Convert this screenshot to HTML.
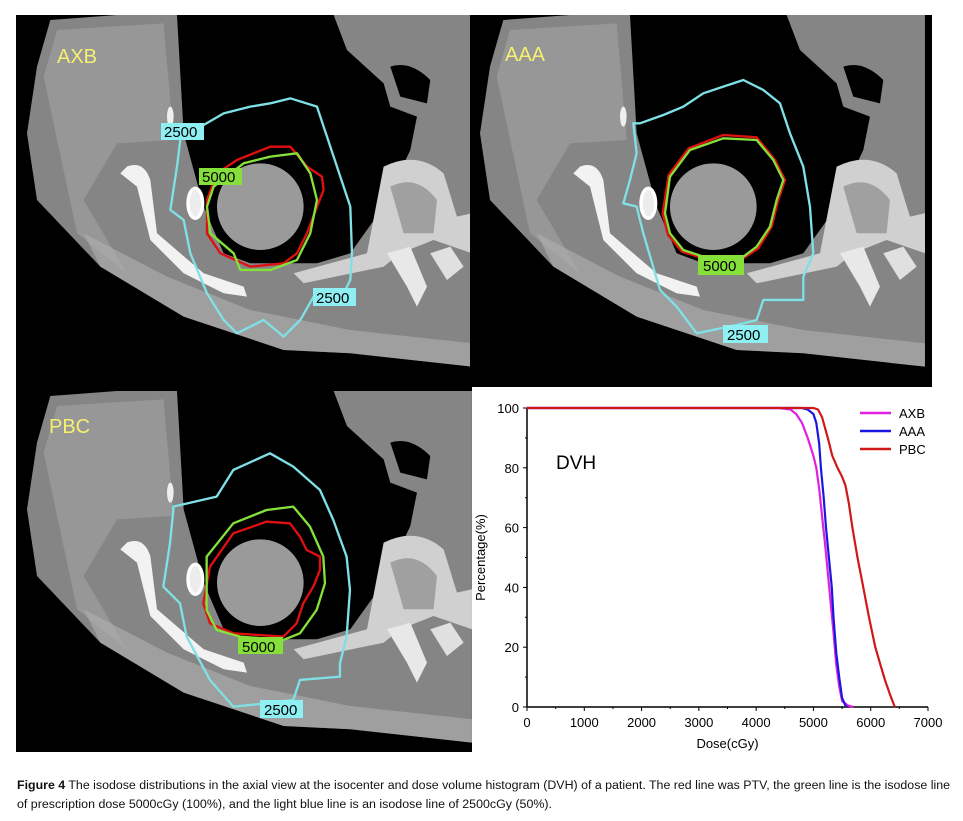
<!DOCTYPE html>
<html><head><meta charset="utf-8"><style>
body{margin:0;background:#fff;width:963px;height:821px;overflow:hidden;font-family:"Liberation Sans",sans-serif}
</style></head><body>
<svg id="fig" width="963" height="821" style="position:absolute;left:0;top:0">
<defs>
<g id="ct">
 <rect x="0" y="45" width="1365" height="1060" fill="#000"/>
 <path d="M60,200 L100,60 L300,45 L480,45 L500,400 L560,620 L620,760 L700,790 L900,790 L1000,760 L1100,620 L1180,450 L1200,350 L1120,320 L1100,250 L990,150 L950,45 L1365,45 L1365,1100 L1000,1060 L800,1050 L500,950 L250,800 L60,600 L30,400 Z" fill="#858585"/>
 <path d="M80,230 L120,90 L440,70 L470,420 L300,430 L200,600 L330,820 L180,700 Z" fill="#9e9e9e" opacity="0.7"/>
 <path d="M250,800 L500,950 L800,1050 L1000,1060 L1365,1100 L1365,1030 L1000,990 L700,930 L450,830 L200,700 Z" fill="#b0b0b0" opacity="0.6"/>
 <circle cx="730" cy="620" r="130" fill="#9a9a9a"/>
 <path d="M1100,500 Q1200,450 1280,520 L1320,650 L1365,640 L1365,760 L1250,720 L1150,760 L1100,800 L860,850 L830,820 L1050,760 Z" fill="#d0d0d0"/>
 <path d="M1120,560 Q1200,520 1260,600 L1250,700 L1160,700 Z" fill="#a0a0a0"/>
 <path d="M1110,760 L1180,740 L1230,860 L1200,920 L1170,860 Z" fill="#e8e8e8"/>
 <path d="M1240,760 L1300,740 L1340,800 L1290,840 Z" fill="#e0e0e0"/>
 <path d="M1120,200 Q1180,180 1240,240 L1230,310 L1150,290 Z" fill="#000"/>
 <path d="M330,500 Q380,480 400,540 L420,700 L560,820 L680,860 L690,890 L620,880 L500,820 L400,720 L360,560 L310,520 Z" fill="#f2f2f2"/>
 <ellipse cx="535" cy="610" rx="22" ry="45" fill="#ececec" stroke="#fff" stroke-width="10"/>
 <ellipse cx="460" cy="350" rx="10" ry="30" fill="#eee"/>
</g>
</defs>
<rect x="16" y="15" width="916" height="737" fill="#000"/>
<g>
 <use href="#ct" transform="translate(17,0) scale(0.3333)"/>
 <g transform="translate(17,0) scale(0.3333)" fill="none" stroke-width="7" stroke-linejoin="round">
  <path stroke="#7fe0e6" d="M560,375 L620,340 L700,320 L760,310 L820,295 L900,320 L920,380 L960,500 L1000,620 L1005,760 L1000,840 L980,880 L890,890 L850,960 L800,1010 L740,960 L660,1000 L620,960 L570,880 L520,760 L500,660 L460,630 L480,500 L490,420 L470,380 Z"/>
  <path stroke="#e01010" d="M600,520 L660,480 L760,440 L820,440 L870,500 L915,530 L920,570 L900,620 L870,700 L840,760 L800,790 L700,800 L610,760 L570,700 L570,600 Z"/>
  <path stroke="#86e03a" d="M590,560 L680,490 L760,470 L840,460 L880,520 L900,600 L880,700 L840,780 L760,810 L670,810 L650,760 L580,700 L570,620 Z"/>
 </g>
 <rect x="161" y="123" width="43" height="17" fill="#8ff0f4"/><text x="164" y="137" font-size="15">2500</text>
 <rect x="199" y="168" width="43" height="17" fill="#86e03a"/><text x="202" y="182" font-size="15">5000</text>
 <rect x="313" y="288" width="43" height="18" fill="#8ff0f4"/><text x="316" y="303" font-size="15">2500</text>
 <text x="57" y="63" font-size="20" fill="#f5f070">AXB</text>
</g>
<g>
 <use href="#ct" transform="translate(470,0) scale(0.3333)"/>
 <rect x="932" y="0" width="31" height="390" fill="#fff"/>
 <g transform="translate(470,0) scale(0.3333)" fill="none" stroke-width="7" stroke-linejoin="round">
  <path stroke="#7fe0e6" d="M510,370 L580,345 L640,320 L700,280 L760,260 L820,240 L880,270 L930,310 L960,400 L1000,500 L1020,620 L1030,760 L1000,830 L1000,900 L880,900 L860,960 L800,975 L680,1000 L620,920 L570,870 L520,700 L500,620 L460,610 L480,540 L500,460 L490,370 Z"/>
  <path stroke="#e01010" d="M596,525 L656,445 L760,405 L860,412 L915,480 L945,540 L925,600 L905,680 L865,745 L820,775 L700,775 L636,755 L594,705 L578,640 Z"/>
  <path stroke="#86e03a" d="M600,530 L660,450 L760,415 L860,420 L910,480 L940,540 L920,600 L900,680 L860,740 L820,770 L700,770 L640,750 L600,700 L585,640 Z"/>
 </g>
 <rect x="698" y="255" width="46" height="20" fill="#86e03a"/><text x="703" y="271" font-size="15">5000</text>
 <rect x="723" y="325" width="45" height="18" fill="#8ff0f4"/><text x="727" y="340" font-size="15">2500</text>
 <text x="505" y="61" font-size="20" fill="#f5f070">AAA</text>
</g>
<g>
 <use href="#ct" transform="translate(17,376) scale(0.3333)"/>
 <g transform="translate(0,370) scale(0.3333)" fill="none" stroke-width="7" stroke-linejoin="round">
  <path stroke="#7fe0e6" d="M520,410 L650,380 L700,300 L810,250 L880,290 L960,360 L1000,450 L1040,560 L1050,660 L1040,800 L1020,880 L1020,920 L900,930 L880,990 L800,1000 L700,1010 L630,930 L560,800 L540,700 L490,650 L510,520 L520,420 Z"/>
  <path stroke="#e01010" d="M630,590 L700,490 L800,455 L870,460 L900,500 L920,540 L960,560 L960,600 L940,650 L910,700 L890,760 L850,800 L700,790 L630,760 L610,700 Z"/>
  <path stroke="#86e03a" d="M620,560 L700,460 L800,420 L880,410 L930,470 L970,560 L975,640 L950,720 L900,790 L850,810 L720,800 L650,780 L620,720 L620,620 Z"/>
 </g>
 <rect x="238" y="637" width="45" height="17" fill="#86e03a"/><text x="242" y="652" font-size="15">5000</text>
 <rect x="260" y="700" width="43" height="18" fill="#8ff0f4"/><text x="264" y="715" font-size="15">2500</text>
 <text x="49" y="433" font-size="20" fill="#f5f070">PBC</text>
</g>
<rect x="472" y="387" width="491" height="370" fill="#fff"/>
<g id="chart"></g>
<g font-size="11.5" fill="#111">
 <text x="17" y="789" textLength="933" lengthAdjust="spacingAndGlyphs"><tspan font-weight="bold">Figure 4</tspan> The isodose distributions in the axial view at the isocenter and dose volume histogram (DVH) of a patient. The red line was PTV, the green line is the isodose line</text>
 <text x="17" y="808" textLength="535" lengthAdjust="spacingAndGlyphs">of prescription dose 5000cGy (100%), and the light blue line is an isodose line of 2500cGy (50%).</text>
</g>
</svg>
<script>
const xTicks=[0,1000,2000,3000,4000,5000,6000,7000];
const yTicks=[0,20,40,60,80,100];
const axbDose=[0,4400,4600,4700,4800,4900,5000,5050,5100,5150,5200,5250,5300,5350,5400,5450,5500,5600,5700];
const axbPct=[100,100,99.5,98,95,90,84,80,73,64,55,45,35,25,14,7,2,0.5,0];
const aaaDose=[0,4800,4900,5000,5050,5100,5130,5180,5220,5270,5320,5350,5400,5450,5500,5570];
const aaaPct=[100,100,99.5,98,95,88,80,70,60,50,40,30,18,10,3,0];
const pbcDose=[0,5000,5080,5150,5250,5330,5420,5500,5560,5620,5680,5770,5870,5970,6080,6170,6250,6340,6420];
const pbcPct=[100,100,99.5,97,90,84,80,77,74,68,60,50,40,30,20,14,9,4,0];
const seriesNames=["AXB","AAA","PBC"];
const colors={AXB:"#e020e0",AAA:"#1818e0",PBC:"#d01818"};
const NS="http://www.w3.org/2000/svg";
const X0=527,X1=928,Y0=707,Y1=408;
function sx(v){return X0+(v-0)/(7000-0)*(X1-X0);}
function sy(v){return Y0-(v-0)/(100-0)*(Y0-Y1);}
const g=document.getElementById('chart');
function mk(t,a,p){const e=document.createElementNS(NS,t);for(const k in a)e.setAttribute(k,a[k]);(p||g).appendChild(e);return e;}
let ax=mk('line',{x1:X0,y1:Y0,x2:X1,y2:Y0,stroke:'#000','stroke-width':1.5});


let ay=mk('line',{x1:X0,y1:Y0,x2:X0,y2:Y1,stroke:'#000','stroke-width':1.5});


xTicks.forEach(v=>{
 mk('line',{x1:sx(v),y1:Y0,x2:sx(v),y2:Y0+4,stroke:'#000'});
 if(v<7000)mk('line',{x1:sx(v+500),y1:Y0,x2:sx(v+500),y2:Y0+2,stroke:'#000'});
 const t=mk('text',{x:sx(v),y:Y0+20,'font-size':13,'text-anchor':'middle'});t.textContent=v;
 
 
});
yTicks.forEach(v=>{
 mk('line',{x1:X0,y1:sy(v),x2:X0-4,y2:sy(v),stroke:'#000'});
 if(v<100)mk('line',{x1:X0,y1:sy(v+10),x2:X0-2,y2:sy(v+10),stroke:'#000'});
 const t=mk('text',{x:X0-8,y:sy(v)+5,'font-size':13,'text-anchor':'end'});t.textContent=v;
 
 
});
let xt=mk('text',{x:(X0+X1)/2,y:Y0+41,'font-size':13,'text-anchor':'middle'});xt.textContent='Dose(cGy)';


let yt=mk('text',{x:0,y:0,'font-size':13,'text-anchor':'middle',transform:`translate(485,${(Y0+Y1)/2}) rotate(-90)`});yt.textContent='Percentage(%)';


let dv=mk('text',{x:556,y:469,'font-size':19});dv.textContent='DVH';


const data={AXB:[axbDose,axbPct],AAA:[aaaDose,aaaPct],PBC:[pbcDose,pbcPct]};
seriesNames.forEach((n,i)=>{
 const [d,p]=data[n];
 const pts=d.map((v,j)=>sx(v).toFixed(1)+','+sy(p[j]).toFixed(1)).join(' ');
 const l=mk('polyline',{points:pts,fill:'none',stroke:colors[n],'stroke-width':2.2});
 
 
 const ly=413+i*18;
 const ll=mk('line',{x1:860,y1:ly,x2:891,y2:ly,stroke:colors[n],'stroke-width':2.5});
 
 
 const lt=mk('text',{x:899,y:ly+5,'font-size':13});lt.textContent=n;
 
 
});
</script>
</body></html>
